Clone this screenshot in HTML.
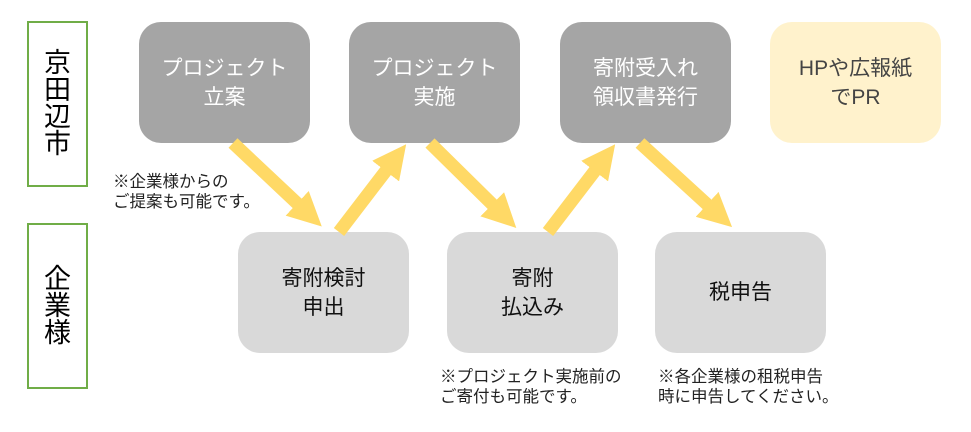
<!DOCTYPE html>
<html><head><meta charset="utf-8"><style>
body{margin:0;width:971px;height:432px;background:#fff;position:relative;overflow:hidden;font-family:"Liberation Sans","Noto Sans CJK JP",sans-serif;}
.side{position:absolute;left:27px;width:57px;border:2px solid #70ad47;display:flex;align-items:center;justify-content:center;font-size:27px;line-height:27px;color:#000;text-align:center;}
.b{position:absolute;width:171px;height:121px;border-radius:22px;display:flex;align-items:center;justify-content:center;text-align:center;font-size:21px;line-height:29px;}
.d{background:#a5a5a5;color:#fff;top:22px;}
.l{background:#d9d9d9;color:#111;top:232px;}
.y{background:#fff2cc;color:#444;top:22px;}
.n{position:absolute;font-size:16.5px;line-height:20px;color:#222;white-space:nowrap;}
svg{position:absolute;left:0;top:0;}
</style></head><body>
<div class="side" style="top:21px;height:162px;">京<br>田<br>辺<br>市</div>
<div class="side" style="top:223px;height:162px;">企<br>業<br>様</div>
<div class="b d" style="left:139px;">プロジェクト<br>立案</div>
<div class="b d" style="left:349px;">プロジェクト<br>実施</div>
<div class="b d" style="left:560px;">寄附受入れ<br>領収書発行</div>
<div class="b y" style="left:770px;">HPや広報紙<br>でPR</div>
<div class="b l" style="left:238px;">寄附検討<br>申出</div>
<div class="b l" style="left:447px;">寄附<br>払込み</div>
<div class="b l" style="left:655px;">税申告</div>
<div class="n" style="left:113px;top:172px;">※企業様からの<br>ご提案も可能です。</div>
<div class="n" style="left:440px;top:367px;">※プロジェクト実施前の<br>ご寄付も可能です。</div>
<div class="n" style="left:658px;top:367px;">※各企業様の租税申告<br>時に申告してください。</div>
<svg width="971" height="432">
<defs><marker id="h" markerWidth="2.6" markerHeight="2.6" refX="0.3" refY="1.3" orient="auto" markerUnits="strokeWidth"><path d="M0,0 L2.6,1.3 L0,2.6 Z" fill="#ffd966"/></marker></defs>
<g stroke="#ffd966" stroke-width="13" fill="none" marker-end="url(#h)">
<line x1="233" y1="143" x2="300" y2="206"/>
<line x1="339" y1="232" x2="388" y2="168"/>
<line x1="430" y1="143" x2="495" y2="207"/>
<line x1="548" y1="232" x2="597" y2="168"/>
<line x1="640" y1="143" x2="710" y2="207"/>
</g></svg>
</body></html>
